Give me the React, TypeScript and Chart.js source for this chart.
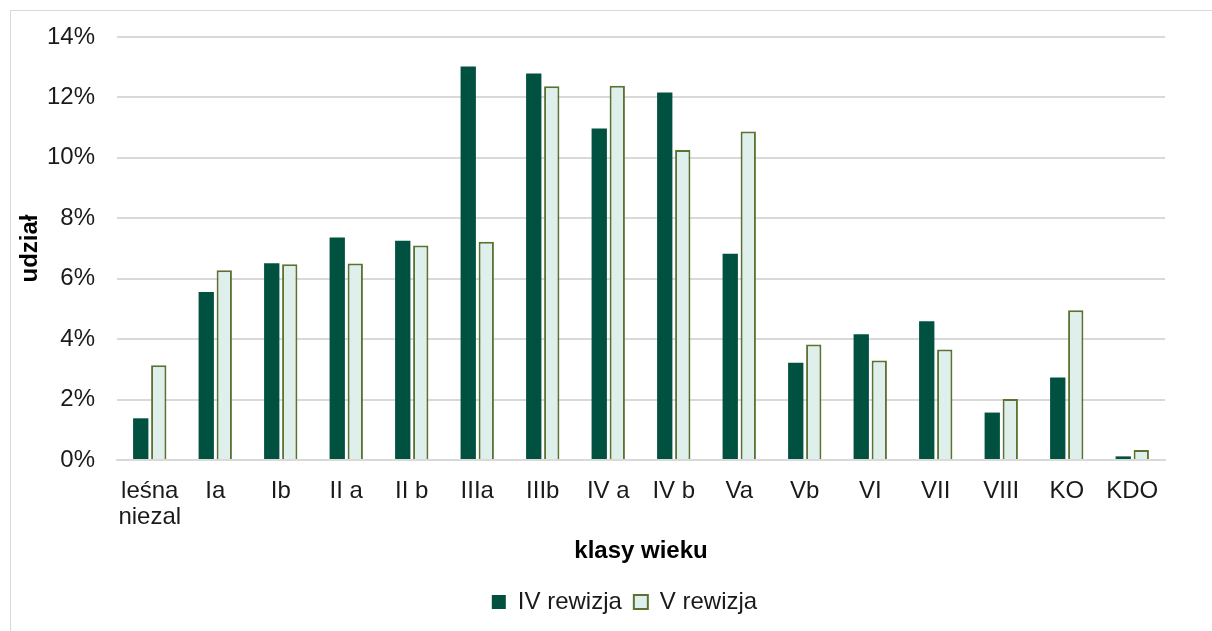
import React, { useEffect, useRef } from "react";
import { Chart, registerables } from "chart.js";

Chart.register(...registerables);

const categories: (string | string[])[] = [
  ["leśna", "niezal"], "Ia", "Ib", "II a", "II b", "IIIa", "IIIb", "IV a", "IV b", "Va", "Vb", "VI", "VII", "VIII", "KO", "KDO",
];
const seriesIV = [1.38, 5.56, 6.51, 7.36, 7.26, 13.02, 12.79, 10.97, 12.16, 6.83, 3.22, 4.16, 4.59, 1.57, 2.73, 0.12];
const seriesV = [3.14, 6.28, 6.48, 6.5, 7.1, 7.22, 12.37, 12.39, 10.26, 10.87, 3.82, 3.29, 3.66, 2.02, 4.96, 0.33];
const seriesNames = ["IV rewizja", "V rewizja"];
const yTicks = [0, 2, 4, 6, 8, 10, 12, 14];

const FONT = "'Liberation Sans', Arial, sans-serif";

const legendShift = {
  id: "legendShift",
  afterLayout(chart: any) {
    const lg = chart.legend;
    if (lg) {
      lg.left += 42;
      lg.right += 42;
    }
  },
};

export default function App() {
  const ref = useRef<HTMLCanvasElement | null>(null);

  useEffect(() => {
    if (!ref.current) return;
    const chart = new Chart(ref.current, {
      type: "bar",
      plugins: [legendShift],
      data: {
        labels: categories,
        datasets: [
          {
            label: seriesNames[0],
            data: seriesIV,
            backgroundColor: "#00513F",
            borderColor: "#00513F",
            borderWidth: 0,
            categoryPercentage: 0.55,
            barPercentage: 0.85,
          },
          {
            label: seriesNames[1],
            data: seriesV,
            backgroundColor: "#DFF0EC",
            borderColor: "#5A7232",
            borderWidth: 2,
            categoryPercentage: 0.55,
            barPercentage: 0.85,
          },
        ],
      },
      options: {
        responsive: false,
        animation: false,
        layout: { padding: { top: 37, right: 47, left: 0, bottom: 7 } },
        plugins: {
          tooltip: { enabled: false },
          legend: {
            position: "bottom",
            labels: {
              boxWidth: 14,
              boxHeight: 14,
              padding: 12,
              color: "#1a1a1a",
              font: { family: FONT, size: 24 },
            },
          },
        },
        scales: {
          x: {
            grid: { display: false, drawTicks: false },
            border: { color: "#d9d9d9", width: 2 },
            ticks: {
              color: "#1a1a1a",
              padding: 18,
              maxRotation: 0,
              autoSkip: false,
              font: { family: FONT, size: 24, lineHeight: 1.1 },
            },
            title: {
              display: true,
              text: "klasy wieku",
              color: "#000",
              font: { family: FONT, size: 24, weight: "bold" },
              padding: { top: 4, bottom: 12 },
            },
            afterFit: (s: any) => {
              s.height = 118;
            },
          },
          y: {
            min: 0,
            max: 14,
            afterBuildTicks: (s: any) => {
              s.ticks = yTicks.map((v) => ({ value: v }));
            },
            grid: { color: "#d9d9d9", lineWidth: 2, drawTicks: false },
            border: { display: false },
            ticks: {
              color: "#1a1a1a",
              padding: 22,
              font: { family: FONT, size: 24 },
              callback: (v: any) => v + "%",
            },
            title: {
              display: true,
              text: "udział",
              color: "#000",
              font: { family: FONT, size: 24, weight: "bold" },
              padding: { top: 16, bottom: 0 },
            },
            afterFit: (s: any) => {
              s.width = 117;
            },
          },
        },
      },
    });
    return () => chart.destroy();
  }, []);

  return (
    <>
      <style>{`body{margin:0;overflow:hidden;background:#fff}`}</style>
      <div
        style={{
          position: "fixed",
          left: 10,
          top: 10,
          width: 1400,
          height: 800,
          border: "1px solid #d9d9d9",
          boxSizing: "border-box",
        }}
      />
      <canvas
        ref={ref}
        width={1212}
        height={631}
        style={{ position: "fixed", left: 0, top: 0, display: "block" }}
      />
    </>
  );
}
